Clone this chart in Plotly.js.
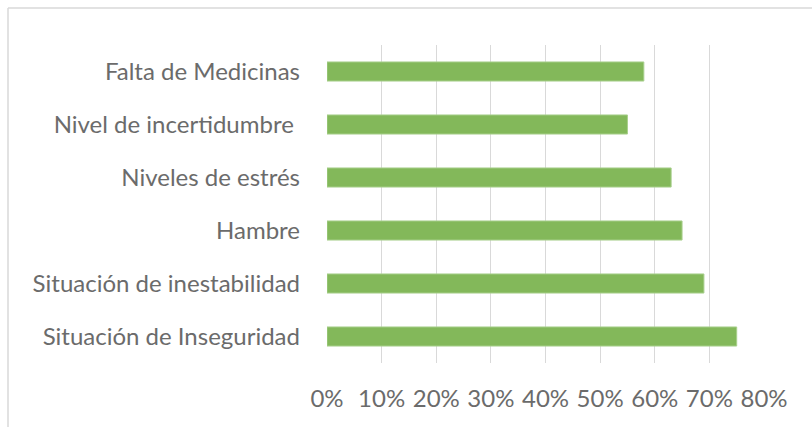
<!DOCTYPE html>
<html>
<head>
<meta charset="utf-8">
<script src="https://cdn.plot.ly/plotly-3.0.1.min.js"></script>
<style>
html,body{margin:0;padding:0;background:#fff;}
#chart{width:812px;height:427px;}
</style>
</head>
<body>
<div id="chart"></div>
<script>
const categories = ["Falta de Medicinas", "Nivel de incertidumbre ", "Niveles de estrés", "Hambre", "Situación de inestabilidad", "Situación de Inseguridad"];
const values = [0.58, 0.55, 0.63, 0.65, 0.69, 0.75];
const tickVals = [0, 0.1, 0.2, 0.3, 0.4, 0.5, 0.6, 0.7, 0.8];
const tickText = ["0%", "10%", "20%", "30%", "40%", "50%", "60%", "70%", "80%"];

const margin = {l: 327, r: 48, t: 45, b: 64};
const W = 812, H = 427;
const pw = W - margin.l - margin.r, ph = H - margin.t - margin.b;
const bx0 = (8 - margin.l) / pw, by1 = 1 + (margin.t - 8) / ph;

Plotly.newPlot('chart', [{
  type: 'bar',
  orientation: 'h',
  y: categories,
  x: values,
  width: 0.36,
  marker: {color: '#83b85a', line: {color: '#a8cf8c', width: 1}},
  hoverinfo: 'none'
}], {
  width: W, height: H,
  margin: margin,
  paper_bgcolor: '#fff',
  plot_bgcolor: '#fff',
  showlegend: false,
  font: {family: 'Lato, "Open Sans", sans-serif', color: '#595959'},
  xaxis: {
    range: [0, 0.8],
    tickvals: tickVals,
    ticktext: tickText,
    showgrid: true,
    gridcolor: '#d9d9d9',
    gridwidth: 1,
    zeroline: false,
    showline: false,
    ticks: '',
    ticklabelstandoff: 19,
    tickfont: {size: 24, color: '#6b6b6b'},
    fixedrange: true
  },
  yaxis: {
    autorange: 'reversed',
    showgrid: false,
    zeroline: false,
    showline: false,
    ticks: '',
    ticklabelstandoff: 26,
    tickfont: {size: 24, color: '#6b6b6b'},
    fixedrange: true
  },
  shapes: [
    {type: 'line', xref: 'paper', yref: 'paper', x0: bx0, x1: bx0, y0: -1, y1: by1, line: {color: '#d9d9d9', width: 1.5}},
    {type: 'line', xref: 'paper', yref: 'paper', x0: bx0, x1: 2, y0: by1, y1: by1, line: {color: '#d9d9d9', width: 1.5}}
  ]
}, {displayModeBar: false, staticPlot: true});
</script>
</body>
</html>
